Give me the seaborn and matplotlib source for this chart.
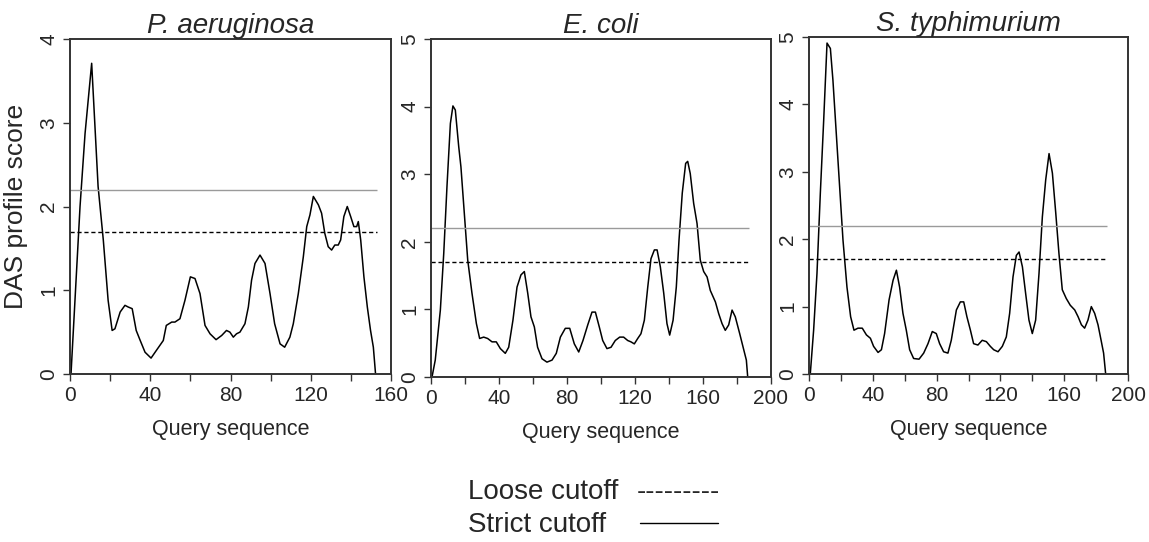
import numpy as np
import pandas as pd
import matplotlib
matplotlib.use("Agg")
import matplotlib.pyplot as plt
from matplotlib.lines import Line2D
from matplotlib.ticker import MultipleLocator
import seaborn as sns

# ---------------- data ----------------
titles = ["P. aeruginosa", "E. coli", "S. typhimurium"]
loose_cutoff = 1.7
strict_cutoff = 2.2
seq_len = [153, 187, 187]
x_max = [160, 200, 200]
y_max = [4, 5, 5]

pa_x = [0.5, 5, 7.5, 10.8, 14, 16.6, 19, 21, 22.4, 25, 27.4, 29, 31, 33, 35, 37.4, 40.4, 43, 46.5, 48,
        50.7, 52.3, 54.8, 57.3, 60, 62.3, 64.8, 67.3, 69.8, 72.8, 75.6, 78, 79.7, 81.4, 83, 84.7, 87.2,
        88.9, 90.5, 92.2, 94.7, 97.2, 99.7, 102, 104.7, 107, 109.6, 111.3, 113.8, 116.3, 118, 119.6,
        121.3, 123.8, 125.4, 127, 128.7, 130.4, 132, 133.7, 134.9, 136.5, 138.2, 139.9, 141.5, 142.9,
        143.7, 144.9, 146.5, 148.2, 149.8, 151.2, 152.3]
pa_y = [0, 2.0, 2.87, 3.71, 2.24, 1.6, 0.88, 0.52, 0.54, 0.74, 0.82, 0.8, 0.78, 0.52, 0.4, 0.26, 0.19,
        0.28, 0.4, 0.58, 0.62, 0.62, 0.66, 0.88, 1.16, 1.14, 0.96, 0.58, 0.48, 0.41, 0.46, 0.52, 0.5,
        0.44, 0.48, 0.5, 0.6, 0.8, 1.12, 1.32, 1.42, 1.32, 0.96, 0.6, 0.36, 0.32, 0.44, 0.6, 0.96, 1.4,
        1.76, 1.9, 2.12, 2.02, 1.92, 1.68, 1.52, 1.48, 1.54, 1.54, 1.6, 1.88, 2.0, 1.88, 1.76, 1.76,
        1.82, 1.6, 1.16, 0.8, 0.52, 0.32, 0]

ec_x = [0.6, 2.5, 5.5, 7.5, 9.4, 11.4, 12.9, 14.3, 16.3, 17.6, 19.6, 21.6, 24.1, 26.7, 28.6, 31, 33.3,
        35.9, 38.4, 40.8, 43.7, 45.7, 48.2, 50.6, 52.9, 54.9, 56.9, 58.8, 60.8, 62.7, 65.3, 68.2, 71.2,
        73.7, 76.1, 79, 81.6, 84.3, 86.9, 89.4, 92.2, 94.7, 96.7, 99, 101, 103.5, 105.9, 108.4, 111,
        113.3, 115.7, 117.6, 119.6, 121.6, 123.5, 125.5, 127.5, 129.4, 131.4, 133, 134.9, 136.9, 138.8,
        140.4, 142.4, 144.3, 145.9, 147.8, 149.8, 151, 152.5, 154.5, 156.5, 158.4, 160.4, 162.4, 164.3,
        167.3, 169.2, 171.2, 173.1, 175.1, 177.1, 179, 181.6, 184, 185.5, 186.3]
ec_y = [0, 0.25, 0.99, 1.83, 2.82, 3.75, 4.01, 3.95, 3.41, 3.11, 2.42, 1.73, 1.24, 0.79, 0.57, 0.59,
        0.57, 0.52, 0.52, 0.42, 0.35, 0.44, 0.84, 1.33, 1.51, 1.56, 1.24, 0.89, 0.74, 0.44, 0.27, 0.22,
        0.25, 0.35, 0.59, 0.72, 0.72, 0.49, 0.37, 0.54, 0.77, 0.96, 0.96, 0.74, 0.54, 0.42, 0.44, 0.54,
        0.59, 0.59, 0.54, 0.52, 0.49, 0.57, 0.64, 0.84, 1.33, 1.75, 1.88, 1.88, 1.63, 1.24, 0.79, 0.62,
        0.84, 1.33, 2.03, 2.72, 3.16, 3.19, 3.01, 2.57, 2.27, 1.73, 1.56, 1.48, 1.28, 1.11, 0.94, 0.79,
        0.69, 0.77, 0.99, 0.89, 0.64, 0.40, 0.25, 0]

st_x = [0.8, 2.9, 5, 7.1, 9.2, 11.3, 13.4, 15, 17.1, 19.2, 21.3, 23.8, 26.1, 28.2, 30.7, 33.4, 36, 38.5,
        40.5, 43.3, 45.4, 47.4, 50.2, 52.7, 54.8, 56.8, 58.9, 61, 63.1, 65.6, 69, 71.9, 74.6, 77.3, 79.8,
        81.9, 84.4, 87.1, 89.2, 92.4, 94.9, 97, 99, 101.2, 103.2, 105.9, 108.6, 111.2, 113.7, 115.8,
        118.5, 121.2, 123.7, 125.8, 127.9, 130, 131.7, 133.8, 135.8, 137.9, 140, 142.1, 144.2, 146.3,
        148.4, 150.5, 152.6, 154.7, 156.7, 158.8, 161.3, 163.8, 166.6, 168.7, 170.8, 172.8, 174.9, 177,
        179.1, 181.2, 183.3, 184.7, 186]
st_y = [0, 0.65, 1.49, 2.68, 3.76, 4.91, 4.83, 4.36, 3.57, 2.78, 1.99, 1.29, 0.85, 0.65, 0.68, 0.68,
        0.58, 0.53, 0.41, 0.32, 0.36, 0.60, 1.10, 1.39, 1.54, 1.29, 0.90, 0.65, 0.36, 0.23, 0.22, 0.31,
        0.45, 0.63, 0.60, 0.45, 0.33, 0.31, 0.50, 0.95, 1.07, 1.07, 0.85, 0.65, 0.45, 0.43, 0.50, 0.48,
        0.41, 0.36, 0.33, 0.41, 0.55, 0.90, 1.44, 1.76, 1.81, 1.59, 1.20, 0.80, 0.60, 0.80, 1.49, 2.33,
        2.88, 3.27, 2.98, 2.39, 1.79, 1.25, 1.12, 1.02, 0.95, 0.85, 0.73, 0.68, 0.80, 1.00, 0.90, 0.73,
        0.48, 0.31, 0]

series = [(pa_x, pa_y), (ec_x, ec_y), (st_x, st_y)]

# ---------------- style ----------------
sns.set_style("ticks")
plt.rcParams['font.family'] = ['Liberation Sans', 'DejaVu Sans']

W, H = 1149, 542
fig = plt.figure(figsize=(W / 100, H / 100), dpi=100)

boxes = [(70, 39, 391, 374), (431, 39, 771, 377), (809, 37, 1128, 374)]

for i, (bx, (xs, ys)) in enumerate(zip(boxes, series)):
    l, t, r, b = bx
    ax = fig.add_axes([l / W, 1 - b / H, (r - l) / W, (b - t) / H])
    df = pd.DataFrame({"x": xs, "y": ys})
    sns.lineplot(data=df, x="x", y="y", ax=ax, color="black", lw=1.1, sort=False, estimator=None)
    ax.hlines(strict_cutoff, 0, seq_len[i], color="#9a9a9a", lw=1.0)
    ax.hlines(loose_cutoff, 0, seq_len[i], color="black", lw=1.0, linestyles=(0, (3, 2)))
    ax.set_xlim(0, x_max[i])
    ax.set_ylim(0, y_max[i])
    ax.xaxis.set_major_locator(MultipleLocator(40))
    ax.xaxis.set_minor_locator(MultipleLocator(20))
    ax.yaxis.set_major_locator(MultipleLocator(1))
    ax.tick_params(axis="both", which="major", labelsize=15, length=5, width=1.0, color="#333333")
    ax.tick_params(axis="x", which="minor", length=5, width=1.0, color="#333333")
    for lab in ax.get_yticklabels():
        lab.set_rotation(90)
        lab.set_va("center")
    for s in ax.spines.values():
        s.set_visible(True)
        s.set_color("#333333")
        s.set_linewidth(1.4)
    ax.set_xlabel("Query sequence", fontsize=15.5, labelpad=10)
    if i == 0:
        ax.set_ylabel("DAS profile score", fontsize=19, labelpad=8)
    else:
        ax.set_ylabel("")
    ax.set_title(titles[i], fontsize=20, style="italic", pad=3)

# legend-like annotation at the bottom
fig.text(468 / W, 1 - 492 / H, "Loose cutoff", fontsize=20, va="center", ha="left")
fig.text(637 / W, 1 - 492 / H, "---------", fontsize=20, va="center", ha="left")
fig.text(468 / W, 1 - 525 / H, "Strict cutoff", fontsize=20, va="center", ha="left")
fig.add_artist(Line2D([640 / W, 718 / W], [1 - 523 / H, 1 - 523 / H], color="black", lw=1.0))

fig.savefig("out.png", dpi=100)
